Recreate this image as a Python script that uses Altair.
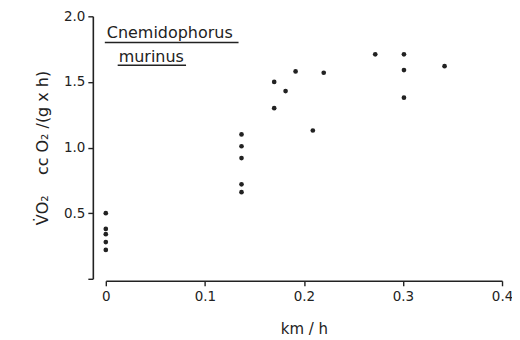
import altair as alt
import pandas as pd

speed = [0, 0, 0, 0, 0,
         0.137, 0.137, 0.137, 0.137, 0.137,
         0.170, 0.170, 0.1815, 0.1916, 0.209, 0.220,
         0.272, 0.301, 0.301, 0.301, 0.342]
vo2 = [0.50, 0.38, 0.34, 0.28, 0.22,
       1.10, 1.01, 0.92, 0.72, 0.66,
       1.50, 1.30, 1.43, 1.58, 1.13, 1.57,
       1.71, 1.71, 1.59, 1.38, 1.62]

title_lines = ["Cnemidophorus", "murinus"]
title_x = [0.001, 0.013]
title_y = [1.87, 1.69]
rule_x = [-0.001, 0.012]
rule_x2 = [0.134, 0.081]
rule_y = [1.80, 1.627]

FONT = "DejaVu Sans"
INK = "#222222"

pts = pd.DataFrame({"speed": speed, "vo2": vo2})
lab = pd.DataFrame({"t": title_lines, "x": title_x, "y": title_y})
rl = pd.DataFrame({"x": rule_x, "x2": rule_x2, "y": rule_y})

xs = alt.Scale(domain=[0, 0.4], nice=False, zero=False)
ys = alt.Scale(domain=[0, 2.0], nice=False, zero=False)

NB = "\u00a0"
ytitle = "V\u0307O\u2082" + NB * 4 + "cc" + NB + "O\u2082" + NB + "/(g" + NB + "x" + NB + "h)"

points = alt.Chart(pts).mark_circle(size=22, opacity=1, color=INK).encode(
    x=alt.X("speed:Q", scale=xs,
            axis=alt.Axis(title="km / h", values=[0, 0.1, 0.2, 0.3, 0.4],
                          labelExpr="datum.value == 0 ? '0' : format(datum.value, '.1f')",
                          grid=False, offset=2, tickSize=5, labelPadding=4,
                          labelFlush=False, labelBound=False,
                          titlePadding=18, domainWidth=1.6, tickWidth=1.4)),
    y=alt.Y("vo2:Q", scale=ys,
            axis=alt.Axis(title=ytitle, values=[0, 0.5, 1.0, 1.5, 2.0],
                          labelExpr="datum.value == 0 ? '' : format(datum.value, '.1f')",
                          grid=False, offset=13, tickSize=5, labelPadding=3,
                          labelFlush=False, titleFontSize=16,
                          titlePadding=13, domainWidth=1.6, tickWidth=1.4)),
)

texts = alt.Chart(lab).mark_text(align="left", baseline="middle", font=FONT,
                                 fontSize=16, color=INK).encode(
    x=alt.X("x:Q", scale=xs), y=alt.Y("y:Q", scale=ys), text="t:N")

rules = alt.Chart(rl).mark_rule(color=INK, strokeWidth=1.4).encode(
    x=alt.X("x:Q", scale=xs), x2="x2:Q", y=alt.Y("y:Q", scale=ys))

chart = alt.layer(points, rules, texts).properties(
    width=397, height=263,
    autosize=alt.AutoSizeParams(type="none"),
    padding={"left": 98, "top": 8, "right": 10, "bottom": 60},
    background="white",
).configure_view(stroke=None).configure_axis(
    labelFont=FONT, titleFont=FONT, labelFontSize=13.5, titleFontSize=15,
    labelColor=INK, titleColor=INK, domainColor=INK, tickColor=INK,
    titleFontWeight="normal",
)

chart.save("out.html", embed_options={"renderer": "svg", "actions": False})
